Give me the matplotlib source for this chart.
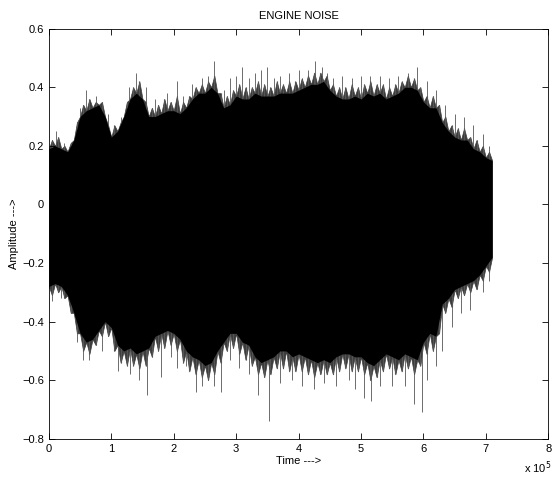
import numpy as np
import matplotlib.pyplot as plt

plt.rcParams['font.family'] = ['Liberation Sans', 'DejaVu Sans']

# envelope of the engine noise waveform, sampled every 0.1 x 10^5 samples
t_env = np.round(np.arange(0, 7.15, 0.1), 1)
upper_env = [0.19, 0.20, 0.19, 0.18, 0.22, 0.30, 0.32, 0.33, 0.34, 0.30,
             0.23, 0.25, 0.30, 0.36, 0.38, 0.36, 0.30, 0.30, 0.31, 0.32,
             0.32, 0.31, 0.33, 0.36, 0.38, 0.38, 0.40, 0.38, 0.33, 0.34,
             0.37, 0.36, 0.36, 0.38, 0.37, 0.37, 0.37, 0.38, 0.38, 0.38,
             0.39, 0.40, 0.41, 0.41, 0.42, 0.39, 0.37, 0.36, 0.36, 0.37,
             0.36, 0.38, 0.37, 0.38, 0.36, 0.37, 0.38, 0.40, 0.40, 0.39,
             0.35, 0.33, 0.33, 0.28, 0.25, 0.23, 0.22, 0.22, 0.19, 0.18,
             0.16, 0.15]
lower_env = [-0.28, -0.27, -0.28, -0.31, -0.37, -0.44, -0.47, -0.46, -0.43, -0.40,
             -0.42, -0.48, -0.50, -0.49, -0.51, -0.50, -0.49, -0.45, -0.44, -0.43,
             -0.44, -0.46, -0.50, -0.52, -0.53, -0.55, -0.54, -0.50, -0.47, -0.44,
             -0.44, -0.47, -0.48, -0.52, -0.54, -0.53, -0.52, -0.50, -0.50, -0.52,
             -0.51, -0.52, -0.53, -0.54, -0.53, -0.54, -0.52, -0.51, -0.51, -0.52,
             -0.52, -0.54, -0.55, -0.53, -0.51, -0.52, -0.53, -0.51, -0.52, -0.53,
             -0.47, -0.44, -0.45, -0.34, -0.32, -0.29, -0.28, -0.27, -0.26, -0.24,
             -0.21, -0.18]

# grey fringe of peaks just outside the envelope, read halfway between samples
t_fr = t_env[:-1] + 0.05
upper_fringe = [0.22, 0.23, 0.20, 0.21, 0.28, 0.34, 0.36, 0.35, 0.35, 0.27,
                0.27, 0.28, 0.35, 0.40, 0.42, 0.35, 0.33, 0.34, 0.36, 0.35,
                0.37, 0.35, 0.37, 0.40, 0.41, 0.42, 0.44, 0.38, 0.37, 0.39,
                0.41, 0.40, 0.40, 0.42, 0.41, 0.40, 0.42, 0.41, 0.42, 0.42,
                0.43, 0.44, 0.45, 0.45, 0.44, 0.41, 0.40, 0.40, 0.41, 0.40,
                0.41, 0.42, 0.41, 0.41, 0.40, 0.41, 0.42, 0.44, 0.43, 0.40,
                0.37, 0.37, 0.34, 0.30, 0.27, 0.26, 0.26, 0.23, 0.22, 0.20,
                0.18]
lower_fringe = [-0.31, -0.30, -0.32, -0.37, -0.44, -0.50, -0.51, -0.48, -0.45, -0.45,
                -0.50, -0.54, -0.55, -0.55, -0.56, -0.55, -0.52, -0.50, -0.49, -0.48,
                -0.50, -0.54, -0.57, -0.58, -0.59, -0.60, -0.58, -0.54, -0.50, -0.49,
                -0.51, -0.53, -0.55, -0.58, -0.59, -0.58, -0.56, -0.56, -0.57, -0.57,
                -0.57, -0.58, -0.59, -0.58, -0.58, -0.58, -0.57, -0.56, -0.57, -0.57,
                -0.58, -0.60, -0.59, -0.57, -0.56, -0.58, -0.57, -0.56, -0.58, -0.55,
                -0.51, -0.50, -0.44, -0.37, -0.35, -0.32, -0.31, -0.30, -0.29, -0.26,
                -0.23]

# isolated peaks sticking out further
spike_hi_t = [0.12, 0.25, 0.5, 0.6, 0.75, 0.95, 1.15, 1.28, 1.4, 1.55, 1.7, 1.9,
              2.05, 2.15, 2.3, 2.45, 2.55, 2.65, 2.8, 2.9, 3.0, 3.1, 3.2, 3.3, 3.4,
              3.5, 3.6, 3.7, 3.85, 4.0, 4.15, 4.27, 4.38, 4.45, 4.55, 4.7, 4.85,
              5.0, 5.15, 5.3, 5.45, 5.6, 5.75, 5.9, 6.05, 6.2, 6.35, 6.5, 6.65,
              6.8, 6.95, 7.05]
spike_hi = [0.25, 0.21, 0.33, 0.39, 0.37, 0.31, 0.30, 0.40, 0.45, 0.40, 0.36, 0.38,
            0.42, 0.37, 0.41, 0.43, 0.44, 0.49, 0.39, 0.43, 0.44, 0.47, 0.43, 0.45, 0.46,
            0.47, 0.43, 0.44, 0.45, 0.46, 0.46, 0.49, 0.47, 0.45, 0.43, 0.44, 0.43,
            0.44, 0.44, 0.44, 0.43, 0.44, 0.45, 0.47, 0.42, 0.39, 0.34, 0.31, 0.30,
            0.27, 0.24, 0.20]
spike_lo_t = [0.05, 0.2, 0.45, 0.55, 0.65, 0.85, 1.1, 1.3, 1.45, 1.58, 1.8, 1.95,
              2.05, 2.2, 2.35, 2.45, 2.65, 2.75, 2.9, 3.05, 3.2, 3.35, 3.53, 3.7,
              3.9, 4.05, 4.25, 4.4, 4.6, 4.8, 4.9, 5.05, 5.16, 5.3, 5.5, 5.7, 5.85,
              5.97, 6.05, 6.2, 6.3, 6.45, 6.6, 6.75, 6.95, 7.05]
spike_lo = [-0.33, -0.32, -0.47, -0.53, -0.53, -0.50, -0.57, -0.58, -0.60, -0.65, -0.59, -0.52,
            -0.56, -0.55, -0.64, -0.62, -0.62, -0.64, -0.53, -0.56, -0.58, -0.65, -0.74, -0.61,
            -0.60, -0.62, -0.63, -0.61, -0.62, -0.60, -0.63, -0.66, -0.67, -0.62, -0.62, -0.62, -0.68,
            -0.71, -0.60, -0.55, -0.50, -0.42, -0.37, -0.36, -0.30, -0.26]

fig = plt.figure(figsize=(5.55, 4.78), dpi=100)
ax = fig.add_axes([0.088, 0.082, 0.9, 0.858])

x_env = t_env * 1e5
x_fr = t_fr * 1e5

# zig-zag outline: envelope samples alternating with the fringe peaks between them
x_zig = np.empty(len(x_env) + len(x_fr))
x_zig[0::2] = x_env
x_zig[1::2] = x_fr
hi_zig = np.empty_like(x_zig)
hi_zig[0::2] = upper_env
hi_zig[1::2] = upper_fringe
lo_zig = np.empty_like(x_zig)
lo_zig[0::2] = lower_env
lo_zig[1::2] = lower_fringe

ax.fill_between(x_zig, lo_zig, hi_zig, color='#3c3c3c', linewidth=0.5, zorder=1)
ax.vlines(x_fr, lower_fringe, upper_fringe, color='#555555', linewidth=0.8, zorder=1)
ax.vlines(np.array(spike_hi_t) * 1e5, 0, spike_hi, color='#555555', linewidth=0.6, zorder=1)
ax.vlines(np.array(spike_lo_t) * 1e5, spike_lo, 0, color='#555555', linewidth=0.6, zorder=1)
ax.fill_between(x_env, lower_env, upper_env, color='black', linewidth=0, zorder=2)

ax.set_xlim(0, 8e5)
ax.set_ylim(-0.8, 0.6)
ax.set_xticks(np.arange(0, 9) * 1e5)
ax.set_xticklabels([str(i) for i in range(9)])
ax.set_yticks([-0.8, -0.6, -0.4, -0.2, 0, 0.2, 0.4, 0.6])
ax.set_yticklabels(['\u22120.8', '\u22120.6', '\u22120.4', '\u22120.2', '0', '0.2', '0.4', '0.6'])
ax.tick_params(direction='in', top=True, right=True, labelsize=8, length=4, width=0.6)
for s in ax.spines.values():
    s.set_linewidth(0.6)

ax.set_title('ENGINE NOISE', fontsize=8, pad=7)
ax.set_xlabel('Time --->', fontsize=8, labelpad=2)
ax.set_ylabel('Amplitude --->', fontsize=8, labelpad=2)
fig.text(0.945, 0.012, 'x 10$^5$', fontsize=8)

plt.savefig('out.png')
